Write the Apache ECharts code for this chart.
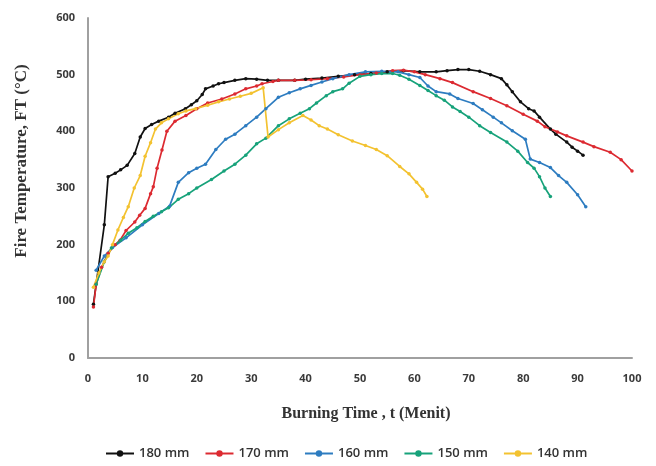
<!DOCTYPE html>
<html>
<head>
<meta charset="utf-8">
<script src="https://cdn.jsdelivr.net/npm/echarts@6/dist/echarts.min.js"></script>
<style>
  html, body { margin: 0; padding: 0; background: #fff; }
  #main { width: 656px; height: 466px; }
</style>
</head>
<body>
<div id="main"></div>
<script>
// series names and colours
const seriesNames = ['180 mm', '170 mm', '160 mm', '150 mm', '140 mm'];
const seriesColors = ['#111111', '#dc2a31', '#2d7cc0', '#17a27a', '#f3c230'];

// [t (menit), FT (°C)]
const data180 = [[1,95],[3,235],[3.7,320],[5,326],[6,332],[7.2,340],[8.6,361],[9.6,390],[10.5,405],[11.7,412],[13,418],[14.8,425],[16,432],[17.9,440],[19,447],[20,454],[21,465],[21.6,475],[23,480],[24,484],[25,486],[27,490],[29,493],[31,492],[33,490],[35,490],[38,490],[40,492],[43,494],[46,497],[49,500],[52,502],[55,505],[58,507],[61,505],[64,505],[66,507],[68,509],[70,509],[72,506],[74,500],[76,493],[77,482],[78,470],[79.5,452],[81,440],[82,436],[83,425],[85,404],[86,395],[88,381],[89,372],[90,365],[91,358]];
const data170 = [[1,90],[1.5,130],[2.5,160],[3.7,185],[5,200],[5.9,208],[7,225],[8.6,240],[9.5,252],[10.5,264],[11.5,290],[12,302],[12.7,335],[13.6,367],[14.5,400],[16,418],[18,428],[20,440],[22,450],[24.6,457],[27,466],[29,475],[31,480],[32,484],[34,488],[35,490],[38,490],[41,491],[44,493],[47,496],[50,500],[53,503],[56,507],[58,508],[60,505],[62,500],[64.7,493],[67,486],[70.8,470],[74,458],[77,445],[80,430],[82.6,418],[84,408],[86.3,399],[88,392],[91,381],[93,373],[96,363],[98,350],[100,330]];
const data160 = [[1.5,155],[3,180],[4.5,195],[7,212],[10,235],[13,255],[15,268],[16.6,310],[18.5,327],[20,335],[21.6,342],[23.5,368],[25.3,386],[27,395],[29,410],[31,425],[32.7,440],[35,460],[37,468],[39,475],[41,481],[43,487],[45,493],[48,500],[51,505],[54,506],[57,505],[59,500],[61,495],[62.5,480],[64,470],[66.5,466],[68,458],[70.8,449],[72.5,438],[74.5,425],[76,415],[78,401],[80.4,386],[81.3,351],[83,345],[85,336],[86.5,322],[88,310],[90,288],[91.5,267]];
const data150 = [[1.5,130],[3,170],[4.3,194],[6,208],[7.4,220],[9,230],[10.5,241],[12,250],[13.5,258],[14.8,265],[16.6,280],[18.5,290],[20,300],[22.7,315],[25,330],[27,342],[29,358],[31,378],[32.7,388],[35,410],[37,422],[39,432],[40.7,440],[42,450],[43.8,463],[45,470],[46.8,475],[48,485],[50,497],[52,500],[54,502],[56,502],[57.3,499],[59,492],[61,481],[62.5,472],[64,463],[65.5,455],[67,443],[68.4,435],[70,425],[72,410],[74,398],[77,381],[79,365],[80.8,345],[82,335],[83,320],[84,300],[85,285]];
const data140 = [[1,125],[2,150],[3,170],[3.7,180],[4.5,200],[5.5,226],[6.5,248],[7.4,267],[8.5,300],[9.6,322],[10.5,356],[11.5,380],[12.4,404],[13.5,415],[14.8,422],[16.6,431],[18,436],[19.8,440],[22,446],[24,452],[26,457],[28,462],[30,467],[32.2,477],[33.1,390],[35,403],[37,415],[39.5,428],[41,420],[42.5,410],[44,404],[46,394],[48.6,383],[51,375],[53,368],[55,357],[57.3,338],[59,325],[60.4,310],[61.5,298],[62.3,285]];

// axis ticks
const xTicks = { min: 0, max: 100, interval: 10 };
const yTicks = { min: 0, max: 600, interval: 100 };

const allData = [data180, data170, data160, data150, data140];

const chart = echarts.init(document.getElementById('main'));

const option = {
    animation: false,
    backgroundColor: '#ffffff',
    color: seriesColors,
    grid: { left: 88, right: 24, top: 18, bottom: 108 },
    legend: {
        data: seriesNames,
        bottom: 1,
        left: 100,
        itemWidth: 28,
        itemHeight: 8,
        itemGap: 15,
        textStyle: { fontFamily: 'Open Sans', fontSize: 13, fontWeight: 600, color: '#333' }
    },
    xAxis: {
        type: 'value',
        min: xTicks.min,
        max: xTicks.max,
        interval: xTicks.interval,
        axisLine: { show: true, lineStyle: { color: '#a0a0a0', width: 2 } },
        axisTick: { show: false },
        splitLine: { show: false },
        axisLabel: { margin: 15, fontFamily: 'Open Sans', fontSize: 11, fontWeight: 'bold', color: '#3a3a3a' }
    },
    yAxis: {
        type: 'value',
        min: yTicks.min,
        max: yTicks.max,
        interval: yTicks.interval,
        axisLine: { show: true, lineStyle: { color: '#a0a0a0', width: 2 } },
        axisTick: { show: false },
        splitLine: { show: false },
        axisLabel: { margin: 13, fontFamily: 'Open Sans', fontSize: 11, fontWeight: 'bold', color: '#3a3a3a' }
    },
    graphic: [
        {
            type: 'text',
            x: 22, y: 161,
            rotation: Math.PI / 2,
            style: {
                text: 'Fire Temperature, FT (°C)',
                font: 'bold 17px "Liberation Serif"',
                fill: '#333',
                textAlign: 'center',
                textVerticalAlign: 'middle'
            }
        },
        {
            type: 'text',
            x: 366, y: 414,
            style: {
                text: 'Burning Time , t (Menit)',
                font: 'bold 16px "Liberation Serif"',
                fill: '#333',
                textAlign: 'center',
                textVerticalAlign: 'middle'
            }
        }
    ],
    series: seriesNames.map(function (name, i) {
        return {
            name: name,
            type: 'line',
            data: allData[i],
            symbol: 'circle',
            symbolSize: 3.5,
            showSymbol: true,
            lineStyle: { width: 1.7 },
            itemStyle: { color: seriesColors[i] }
        };
    })
};

chart.setOption(option);
</script>
</body>
</html>
